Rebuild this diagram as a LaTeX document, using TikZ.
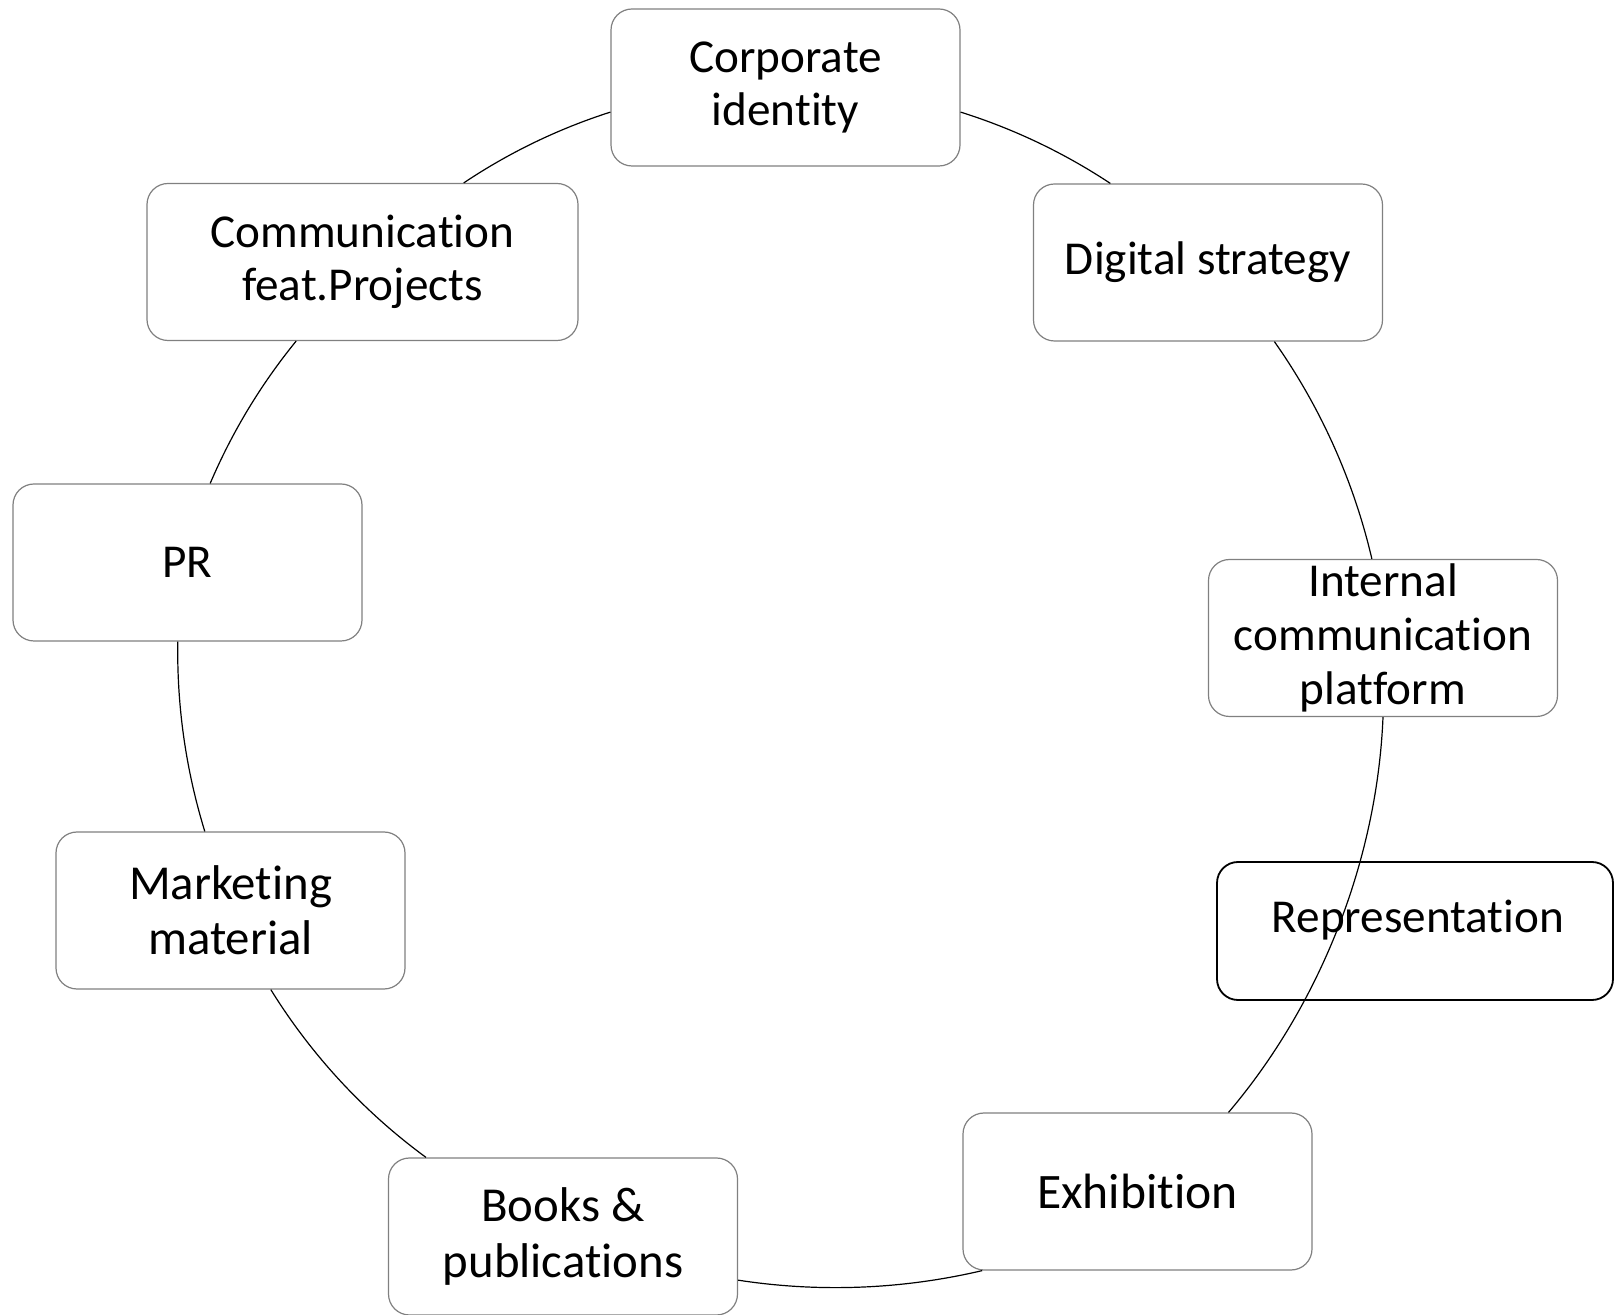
\documentclass[tikz,border=0pt]{standalone}
\usepackage{fontspec}
\setmainfont{Carlito}[RawFeature={-liga;-clig;-calt;-dlig;-rlig}]
\usepackage{xcolor}
\definecolor{boxgray}{RGB}{128,128,128}

\begin{document}
\begin{tikzpicture}[x=0.5pt,y=0.5pt,
        topic/.style={draw=boxgray, line width=0.6pt, fill=white, rounded corners=10.5pt,
            minimum width=174.5pt, minimum height=78.5pt, inner sep=0pt, align=center,
            font=\fontsize{23.6}{26.8}\selectfont},
        bigtopic/.style={topic, font=\fontsize{24.4}{27.6}\selectfont},
        link/.style={line width=0.6pt, black, looseness=0.86}]

        \useasboundingbox (0,0) rectangle (1614,-1315);

        % Boxes round the cycle
        \node[topic] (corp) at (785.5,-87.5) {Corporate\\identity};
        \node[topic] (dig) at (1208,-262.5) {Digital strategy};
        \node[topic] (int) at (1383,-638) {Internal\\communication\\platform};
        \node[topic, font=\fontsize{24.8}{28}\selectfont] (exh) at (1137.5,-1191.5) {Exhibition};
        \node[bigtopic] (books) at (563,-1236.5) {Books \&\\publications};
        \node[bigtopic] (mkt) at (230.5,-910.5) {Marketing\\material};
        \node[topic] (pr) at (187.5,-562.5) {PR};
        \node[topic, minimum width=215.5pt] (comm) at (362.5,-262) {Communication\\feat.Projects};

        % Added box (no fill, the arc runs through it)
        \node[topic, draw=black, line width=0.9pt, fill=none, minimum width=198pt,
            minimum height=69pt, text height=15.5pt, text depth=13.5pt] (rep) at (1415,-931) {\hspace{3pt}Representation};

        % Arcs
        \draw[link] (corp.352) to[bend left=8] (dig.141);
        \draw[link] (dig.310) to[bend left=11] (int.98);
        \draw[link] (int.270) to[bend left=19] (exh.41);
        \draw[link] (exh.207) to[bend left=11] (books.346);
        \draw[link] (books.150) to[bend left=11] (mkt.297);
        \draw[link] (mkt.108) to[bend left=9] (pr.263);
        \draw[link] (pr.74) to[bend left=8] (comm.230);
        \draw[link] (comm.38) to[bend left=8] (corp.188);
    \end{tikzpicture}
\end{document}
